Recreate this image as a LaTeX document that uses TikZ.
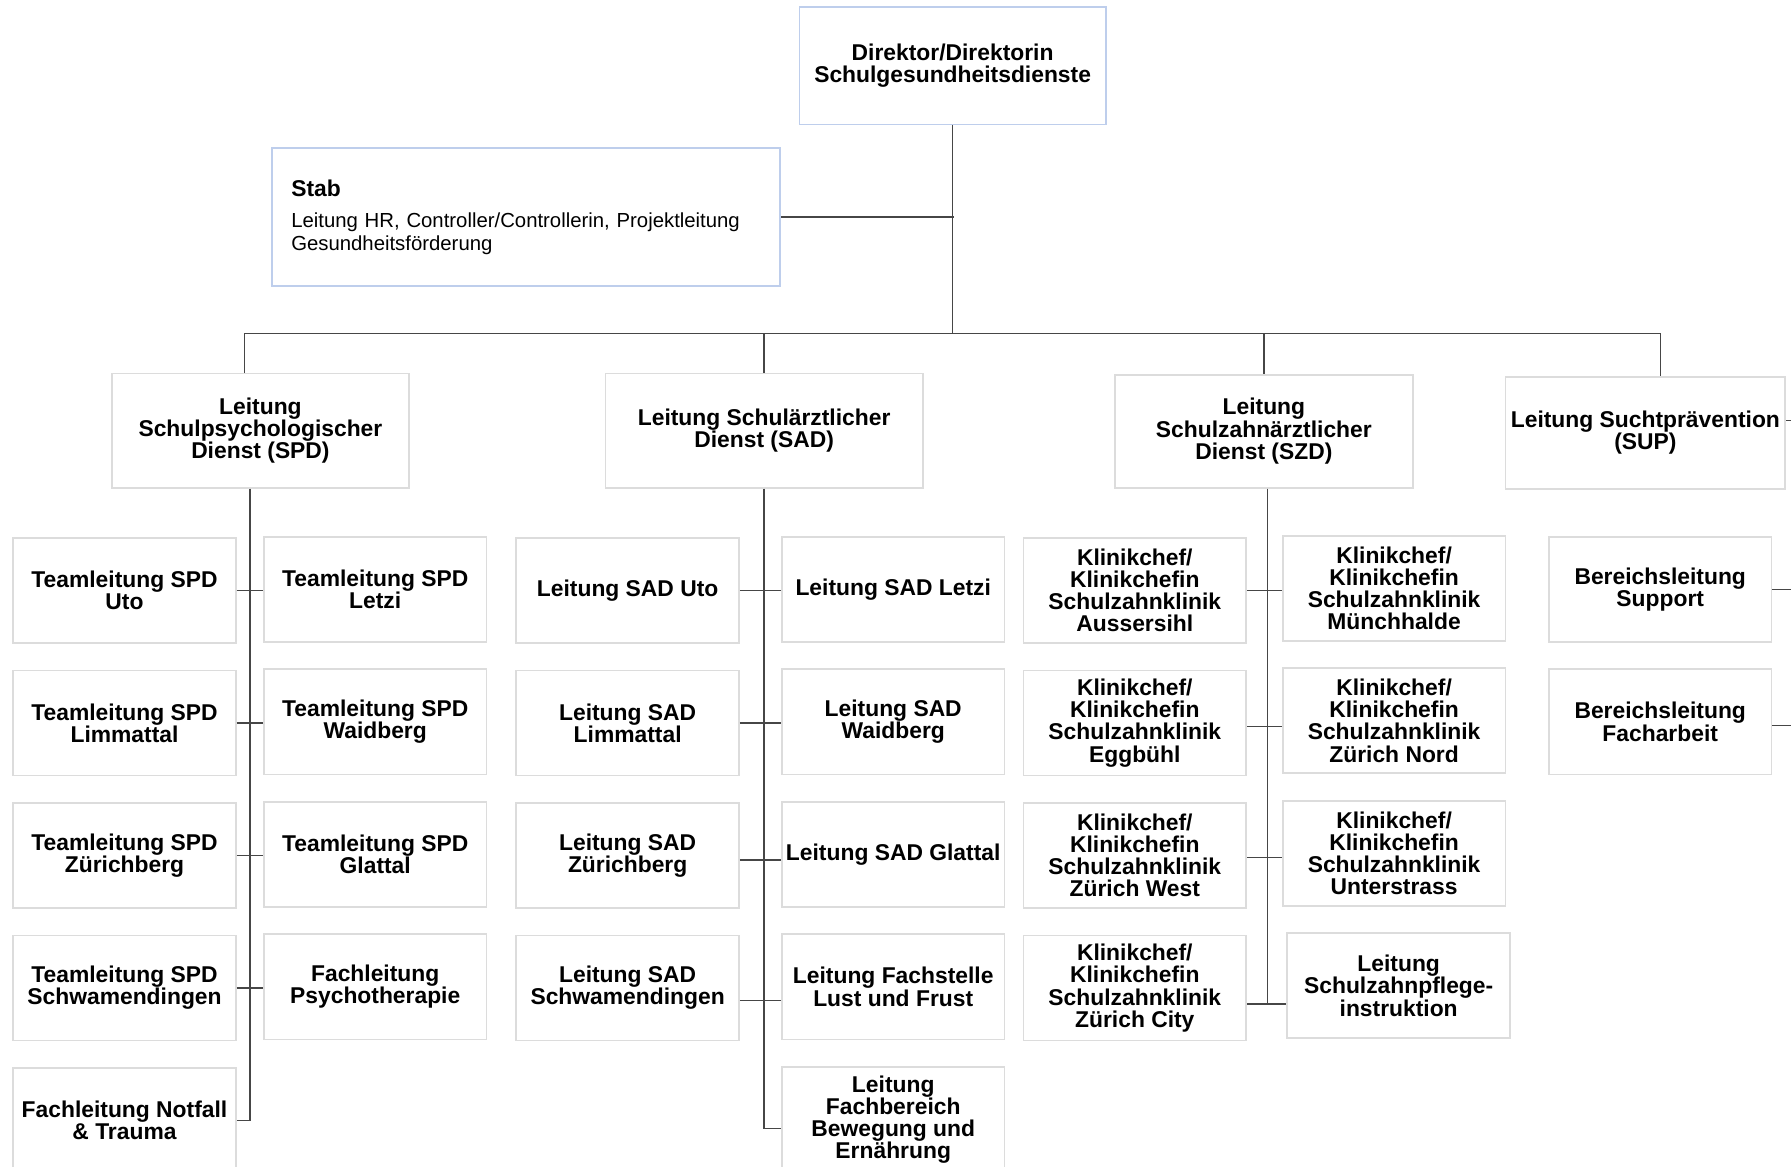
\documentclass[tikz,border=0pt]{standalone}
\usepackage{fontspec}
\setmainfont{Liberation Sans}
\usepackage{tikz}
\definecolor{boxGray}{RGB}{220,220,220}
\definecolor{boxBlue}{RGB}{190,206,236}
\definecolor{lineGray}{RGB}{70,70,70}
\usetikzlibrary{positioning}

\begin{document}
\begin{tikzpicture}[
    x=0.5pt, y=-0.5pt,
    node distance=58pt,
    box/.style={rectangle, draw=boxGray, line width=0.75pt, align=center, inner sep=1pt, font=\bfseries\fontsize{10pt}{9.7pt}\selectfont},
    head/.style={box, draw=boxBlue},
    unit/.style={box, minimum width=97.5pt, minimum height=46pt},
    link/.style={lineGray, line width=0.6pt}
]
    \useasboundingbox (0,0) rectangle (1568,1021);

    \node[head, minimum width=134pt, minimum height=51.5pt] (director) at (834,57.5) {Direktor/Direktorin\\Schulgesundheitsdienste};
    \node[head, align=left, text width=205.5pt, inner xsep=8.5pt, minimum height=60.5pt, font=\fontsize{8.9pt}{10pt}\selectfont] (stab) at (460.5,190) {{\bfseries\fontsize{10pt}{10pt}\selectfont Stab}\\[3.5pt]Leitung HR, Controller/Controllerin, Projektleitung\\Gesundheitsförderung};

    \node[box, minimum width=130pt, minimum height=50pt] (spd) at (228,377) {Leitung\\Schulpsychologischer\\Dienst (SPD)};
    \node[box, minimum width=139pt, minimum height=50pt] (sad) at (669,377) {Leitung Schulärztlicher\\Dienst (SAD)};
    \node[box, minimum width=130.5pt, minimum height=49.5pt] (szd) at (1106.5,377.5) {Leitung\\Schulzahnärztlicher\\Dienst (SZD)};
    \node[box, minimum width=122.5pt, minimum height=49pt] (sup) at (1440.5,379) {Leitung Suchtprävention\\(SUP)};

    \node[unit] (spduto) at (109,517) {Teamleitung SPD\\Uto};
    \node[unit, below of=spduto] (spdlimmattal) {Teamleitung SPD\\Limmattal};
    \node[unit, below of=spdlimmattal] (spdzuerichberg) {Teamleitung SPD\\Zürichberg};
    \node[unit, below of=spdzuerichberg] (spdschwamendingen) {Teamleitung SPD\\Schwamendingen};
    \node[unit, below of=spdschwamendingen] (notfall) {Fachleitung Notfall\\\& Trauma};
    \node[unit] (spdletzi) at (328.5,516) {Teamleitung SPD\\Letzi};
    \node[unit, below of=spdletzi] (spdwaidberg) {Teamleitung SPD\\Waidberg};
    \node[unit, below of=spdwaidberg] (spdglattal) {Teamleitung SPD\\Glattal};
    \node[unit, below of=spdglattal] (psychotherapie) {Fachleitung\\Psychotherapie};

    \node[unit] (saduto) at (549.5,517) {Leitung SAD Uto};
    \node[unit, below of=saduto] (sadlimmattal) {Leitung SAD\\Limmattal};
    \node[unit, below of=sadlimmattal] (sadzuerichberg) {Leitung SAD\\Zürichberg};
    \node[unit, below of=sadzuerichberg] (sadschwamendingen) {Leitung SAD\\Schwamendingen};
    \node[unit] (sadletzi) at (782,516) {Leitung SAD Letzi};
    \node[unit, below of=sadletzi] (sadwaidberg) {Leitung SAD\\Waidberg};
    \node[unit, below of=sadwaidberg] (sadglattal) {Leitung SAD Glattal};
    \node[unit, below of=sadglattal] (lustfrust) {Leitung Fachstelle\\Lust und Frust};
    \node[unit, below of=lustfrust] (bewegung) {Leitung\\Fachbereich\\Bewegung und\\Ernährung};

    \node[unit] (aussersihl) at (993.5,517) {Klinikchef/\\Klinikchefin\\Schulzahnklinik\\Aussersihl};
    \node[unit, below of=aussersihl] (eggbuehl) {Klinikchef/\\Klinikchefin\\Schulzahnklinik\\Eggbühl};
    \node[unit, below of=eggbuehl] (zuerichwest) {Klinikchef/\\Klinikchefin\\Schulzahnklinik\\Zürich West};
    \node[unit, below of=zuerichwest] (zuerichcity) {Klinikchef/\\Klinikchefin\\Schulzahnklinik\\Zürich City};
    \node[unit] (muenchhalde) at (1220.5,515) {Klinikchef/\\Klinikchefin\\Schulzahnklinik\\Münchhalde};
    \node[unit, below of=muenchhalde] (zuerichnord) {Klinikchef/\\Klinikchefin\\Schulzahnklinik\\Zürich Nord};
    \node[unit, below of=zuerichnord] (unterstrass) {Klinikchef/\\Klinikchefin\\Schulzahnklinik\\Unterstrass};
    \node[unit, below of=unterstrass, xshift=2pt] (instruktion) {Leitung\\Schulzahnpflege-\\instruktion};

    \node[unit] (support) at (1453.5,516) {Bereichsleitung\\Support};
    \node[unit, below of=support] (facharbeit) {Bereichsleitung\\Facharbeit};

    \coordinate (bus) at (835,292);
    \coordinate (edge) at (1568,0);
    \draw[link] (director.south) -- (director.south |- bus);
    \draw[link] (stab.east) -- (stab.east -| bus);
    \draw[link] ([xshift=-7pt]spd.north) |- (bus) -| ([xshift=6.5pt]sup.north);
    \foreach \n in {sad,szd}
        \draw[link] (\n.north) -- (\n.north |- bus);

    \foreach \a/\b in {spduto/spdletzi, spdlimmattal/spdwaidberg, spdzuerichberg/spdglattal, spdschwamendingen/psychotherapie}
        \draw[link] (\a.east) -- (\a.east -| \b.west);
    \draw[link] ([xshift=-4.5pt]spd.south) |- (notfall.east);

    \foreach \a/\b/\s in {saduto/sadletzi/0, sadlimmattal/sadwaidberg/0, sadzuerichberg/sadglattal/-2, sadschwamendingen/lustfrust/-5.5} {
        \coordinate (out) at ([yshift=\s pt]\a.east);
        \draw[link] (out) -- (out -| \b.west);
    }
    \draw[link] (sad.south) |- ([yshift=-4pt]bewegung.west);

    \foreach \a/\b/\s in {aussersihl/muenchhalde/0, eggbuehl/zuerichnord/-1.5, zuerichwest/unterstrass/-1, zuerichcity/instruktion/-7} {
        \coordinate (out) at ([yshift=\s pt]\a.east);
        \draw[link] (out) -- (out -| \b.west);
    }
    \draw[link] ([xshift=1.5pt]szd.south) |- ([yshift=-7pt]zuerichcity.east);

    \foreach \a/\s in {sup/5.5, support/0, facharbeit/-1.5} {
        \coordinate (out) at ([yshift=\s pt]\a.east);
        \draw[link] (out) -- (out -| edge);
    }
\end{tikzpicture}
\end{document}
